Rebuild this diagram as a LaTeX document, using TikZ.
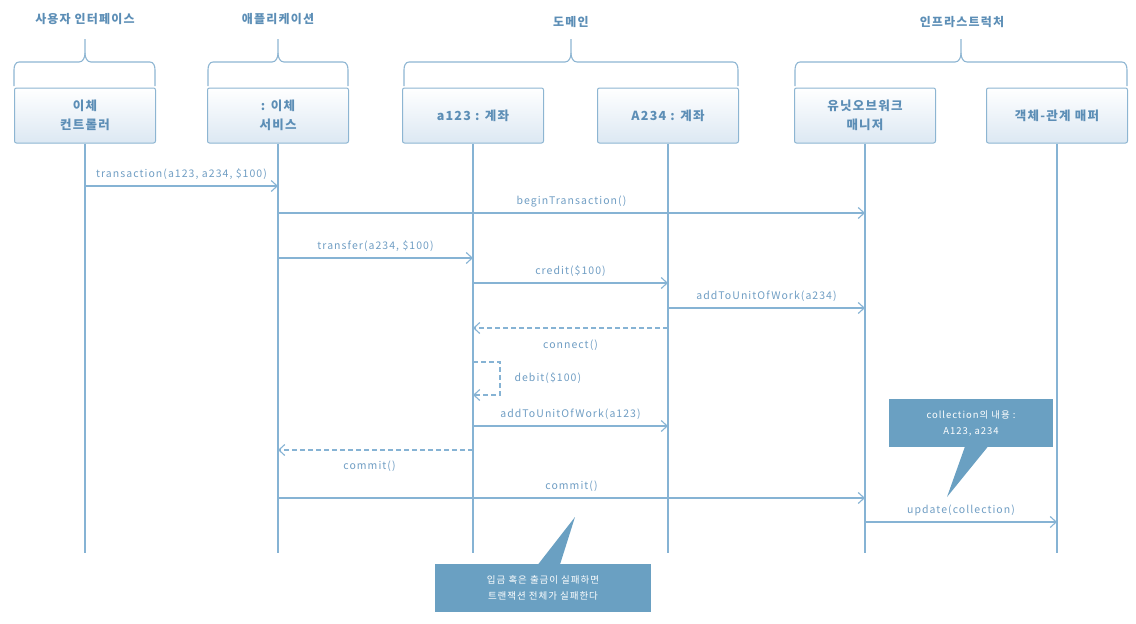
\documentclass[tikz,border=0pt]{standalone}
\usepackage{fontspec}
\setmainfont{Noto Sans CJK KR}[LetterSpace=10]
\usetikzlibrary{arrows.meta}
\definecolor{ln}{HTML}{86B3D4}
\definecolor{tx}{HTML}{6F9DC3}
\definecolor{hd}{HTML}{5C8EB6}
\definecolor{bx}{HTML}{8DB5D2}
\definecolor{bxf}{HTML}{DCE8F3}
\definecolor{nt}{HTML}{6AA0C2}
\newcommand{\mybrace}[3]{%
  \draw[brc] (#1,86) -- (#1,70) to[out=90,in=180] (#1+5,62) -- (#3-6,62) to[out=0,in=-90] (#3,53) -- (#3,39);
  \draw[brc] (#2,86) -- (#2,70) to[out=90,in=0] (#2-5,62) -- (#3+6,62) to[out=180,in=-90] (#3,53);}
\begin{document}
\begin{tikzpicture}[x=1pt,y=-1pt,
  obj/.style={draw=bx, line width=1pt, rounded corners=2pt, minimum width=141pt, minimum height=55pt,
    top color=white, bottom color=bxf, text=hd, font=\bfseries\fontsize{12.5}{19}\selectfont, align=center, inner sep=0pt},
  hdr/.style={text=hd, font=\bfseries\fontsize{12}{14}\selectfont},
  brc/.style={draw=bx, line width=1.1pt},
  life/.style={draw=ln, line width=1.2pt},
  msg/.style={draw=ln, line width=1.1pt, -{Straight Barb[length=6pt,width=11pt,line width=1.1pt]}},
  ret/.style={msg, dash pattern=on 5pt off 3pt},
  lbl/.style={text=tx, font=\fontsize{10.5}{12}\selectfont, inner sep=2pt},
  note/.style={fill=nt, text=white, font=\fontsize{9.5}{16}\selectfont, align=center, inner sep=0pt}
]
\useasboundingbox (0,0) rectangle (1136,624);
% headers
\node[hdr] (h1) at (85,19) {사용자 인터페이스};
\node[hdr] (h2) at (278,19) {애플리케이션};
\node[hdr] (h3) at (571,22) {도메인};
\node[hdr] (h4) at (962,22) {인프라스트럭처};
% braces
\mybrace{14}{155}{85}
\mybrace{208}{348}{278}
\mybrace{404}{738}{571}
\mybrace{795}{1127}{961}
% lifeline ends
\coordinate (e1) at (85,553);
\coordinate (e2) at (278,553);
\coordinate (e3) at (473,553);
\coordinate (e4) at (668,553);
\coordinate (e5) at (865,553);
\coordinate (e6) at (1057,553);
% objects
\node[obj] (o1) at (85,115.5) {이체\\컨트롤러};
\node[obj] (o2) at (278,115.5) {: 이체\\서비스};
\node[obj] (o3) at (473,115.5) {a123 : 계좌};
\node[obj] (o4) at (668,115.5) {A234 : 계좌};
\node[obj] (o5) at (865,115.5) {유닛오브워크\\매니저};
\node[obj] (o6) at (1057,115.5) {객체-관계 매퍼};
\draw[life] (o1.south) -- (e1);
\draw[life] (o2.south) -- (e2);
\draw[life] (o3.south) -- (e3);
\draw[life] (o4.south) -- (e4);
\draw[life] (o5.south) -- (e5);
\draw[life] (o6.south) -- (e6);
% message points
\coordinate (m1a) at (85,186);  \coordinate (m1b) at (278,186);
\coordinate (m2a) at (278,213); \coordinate (m2b) at (865,213);
\coordinate (m3a) at (278,258); \coordinate (m3b) at (473,258);
\coordinate (m4a) at (473,283); \coordinate (m4b) at (668,283);
\coordinate (m5a) at (668,308); \coordinate (m5b) at (865,308);
\coordinate (m6a) at (668,328); \coordinate (m6b) at (473,328);
\coordinate (m7a) at (473,362); \coordinate (m7b) at (473,395);
\coordinate (m8a) at (473,426); \coordinate (m8b) at (668,426);
\coordinate (m9a) at (473,450); \coordinate (m9b) at (278,450);
\coordinate (m10a) at (278,498); \coordinate (m10b) at (865,498);
\coordinate (m11a) at (865,522); \coordinate (m11b) at (1057,522);
% messages
\draw[msg] (m1a) -- node[lbl, above=4pt] {transaction(a123, a234, \$100)} (m1b);
\draw[msg] (m2a) -- node[lbl, above=3pt] {beginTransaction()} (m2b);
\draw[msg] (m3a) -- node[lbl, above=4pt] {transfer(a234, \$100)} (m3b);
\draw[msg] (m4a) -- node[lbl, above=4pt] {credit(\$100)} (m4b);
\draw[msg] (m5a) -- node[lbl, above=4pt] {addToUnitOfWork(a234)} (m5b);
\draw[ret] (m6a) -- node[lbl, below=9pt] {connect()} (m6b);
\draw[ret] (m7a) -- ++(27,0) |- node[lbl, pos=0.25, right=12pt] {debit(\$100)} (m7b);
\draw[msg] (m8a) -- node[lbl, above=4pt] {addToUnitOfWork(a123)} (m8b);
\draw[ret] (m9a) -- node[lbl, below=8pt, xshift=-6pt] {commit()} (m9b);
\draw[msg] (m10a) -- node[lbl, above=4pt] {commit()} (m10b);
\draw[msg] (m11a) -- node[lbl, above=4pt] {update(collection)} (m11b);
% notes
\node[note, minimum width=216pt, minimum height=48pt] (n1) at (543,588) {입금 혹은 출금이 실패하면\\트랜잭션 전체가 실패한다};
\coordinate (n1t) at (575,517);
\fill[nt] (538,564.5) -- (n1t) -- (560,564.5) -- cycle;
\node[note, minimum width=164pt, minimum height=48pt] (n2) at (971,423) {collection의 내용 :\\A123, a234};
\coordinate (n2t) at (947,497);
\fill[nt] (965,446.5) -- (n2t) -- (988,446.5) -- cycle;
\end{tikzpicture}
\end{document}
